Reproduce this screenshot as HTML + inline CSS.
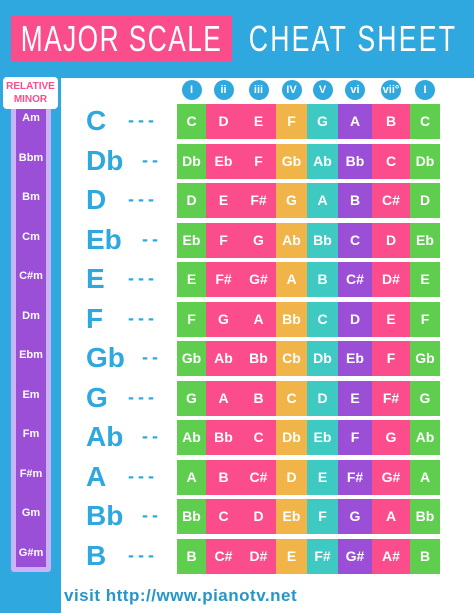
<!DOCTYPE html>
<html><head><meta charset="utf-8"><style>
body{margin:0;width:474px;height:613px;overflow:hidden;background:#fff;font-family:"Liberation Sans",sans-serif;position:relative}
div{position:absolute;box-sizing:border-box;white-space:nowrap}
.t{color:#fff;text-align:center}
</style></head><body>
<div style="left:0;top:0;width:474px;height:78px;background:#2ea8de"></div>
<div style="left:11px;top:16px;width:221px;height:45px;background:#fb4d8c"></div>
<div class="t" style="left:-20px;top:18px;width:283px;font-size:36px;line-height:42px;letter-spacing:2px;transform:scaleX(0.73)">MAJOR SCALE</div>
<div class="t" style="left:210px;top:18px;width:286px;font-size:36px;line-height:42px;letter-spacing:3px;transform:scaleX(0.74)">CHEAT SHEET</div>
<div style="left:0;top:78px;width:61px;height:535px;background:#2ea8de"></div>
<div style="left:11px;top:100px;width:40px;height:472px;background:#c9b3f5;border-radius:3px"></div>
<div style="left:16px;top:100px;width:30px;height:467px;background:#9b4fd6"></div>
<div style="left:3px;top:77px;width:55px;height:32px;background:#fff;border-radius:4px;color:#fb4d8c;font-weight:bold;font-size:10px;line-height:13px;text-align:center;padding-top:3px">RELATIVE<br>MINOR</div>
<div id="grid"></div>
<div style="left:64px;top:586px;font-size:17px;font-weight:bold;color:#2795c8;letter-spacing:0.5px">visit http://www.pianotv.net</div>
<script>
const keys=["C","Db","D","Eb","E","F","Gb","G","Ab","A","Bb","B"];
const dashes=["---","--","---","--","---","---","--","---","--","---","--","---"];
const minors=["Am","Bbm","Bm","Cm","C#m","Dm","Ebm","Em","Fm","F#m","Gm","G#m"];
const degrees=["I","ii","iii","IV","V","vi","vii°","I"];
const scales=[
["C","D","E","F","G","A","B","C"],
["Db","Eb","F","Gb","Ab","Bb","C","Db"],
["D","E","F#","G","A","B","C#","D"],
["Eb","F","G","Ab","Bb","C","D","Eb"],
["E","F#","G#","A","B","C#","D#","E"],
["F","G","A","Bb","C","D","E","F"],
["Gb","Ab","Bb","Cb","Db","Eb","F","Gb"],
["G","A","B","C","D","E","F#","G"],
["Ab","Bb","C","Db","Eb","F","G","Ab"],
["A","B","C#","D","E","F#","G#","A"],
["Bb","C","D","Eb","F","G","A","Bb"],
["B","C#","D#","E","F#","G#","A#","B"]];
const colX=[177,206,241,276,307,338,372,410,440];
const colC=["#5fce4f","#fb4d8c","#fb4d8c","#f0b449","#3ec9c3","#9b4fd6","#fb4d8c","#5fce4f"];
const g=document.getElementById('grid');
function mk(css,txt){const d=document.createElement('div');d.style.cssText=css;if(txt!==undefined)d.textContent=txt;g.appendChild(d);return d;}
degrees.forEach((dg,i)=>{const cx=(colX[i]+colX[i+1])/2;
const d=mk(`left:${cx-10}px;top:80px;width:20px;height:20px;border-radius:50%;background:#2ea8de;color:#fff;font-weight:bold;font-size:11px;line-height:20px;text-align:center`,dg);

});
keys.forEach((k,r)=>{const y=104+r*39.5;
const kl=mk(`left:86px;top:${y-2}px;font-size:28px;font-weight:bold;color:#2ea8de;line-height:38px`,k);


const dl=mk(`left:${dashes[r].length==3?128:142}px;top:${y+1}px;font-size:18px;font-weight:bold;color:#2ea8de;line-height:30px;letter-spacing:4px`,dashes[r]);


const ml=mk(`left:16px;top:${y}px;width:30px;font-size:11px;font-weight:bold;color:#fff;line-height:28px;text-align:center`,minors[r]);


scales[r].forEach((n,c)=>{const cell=mk(`left:${colX[c]}px;top:${y}px;width:${colX[c+1]-colX[c]}px;height:35px;background:${colC[c]};color:#fff;font-weight:bold;font-size:14px;line-height:35px;text-align:center`,n);

});
});
</script>
</body></html>
